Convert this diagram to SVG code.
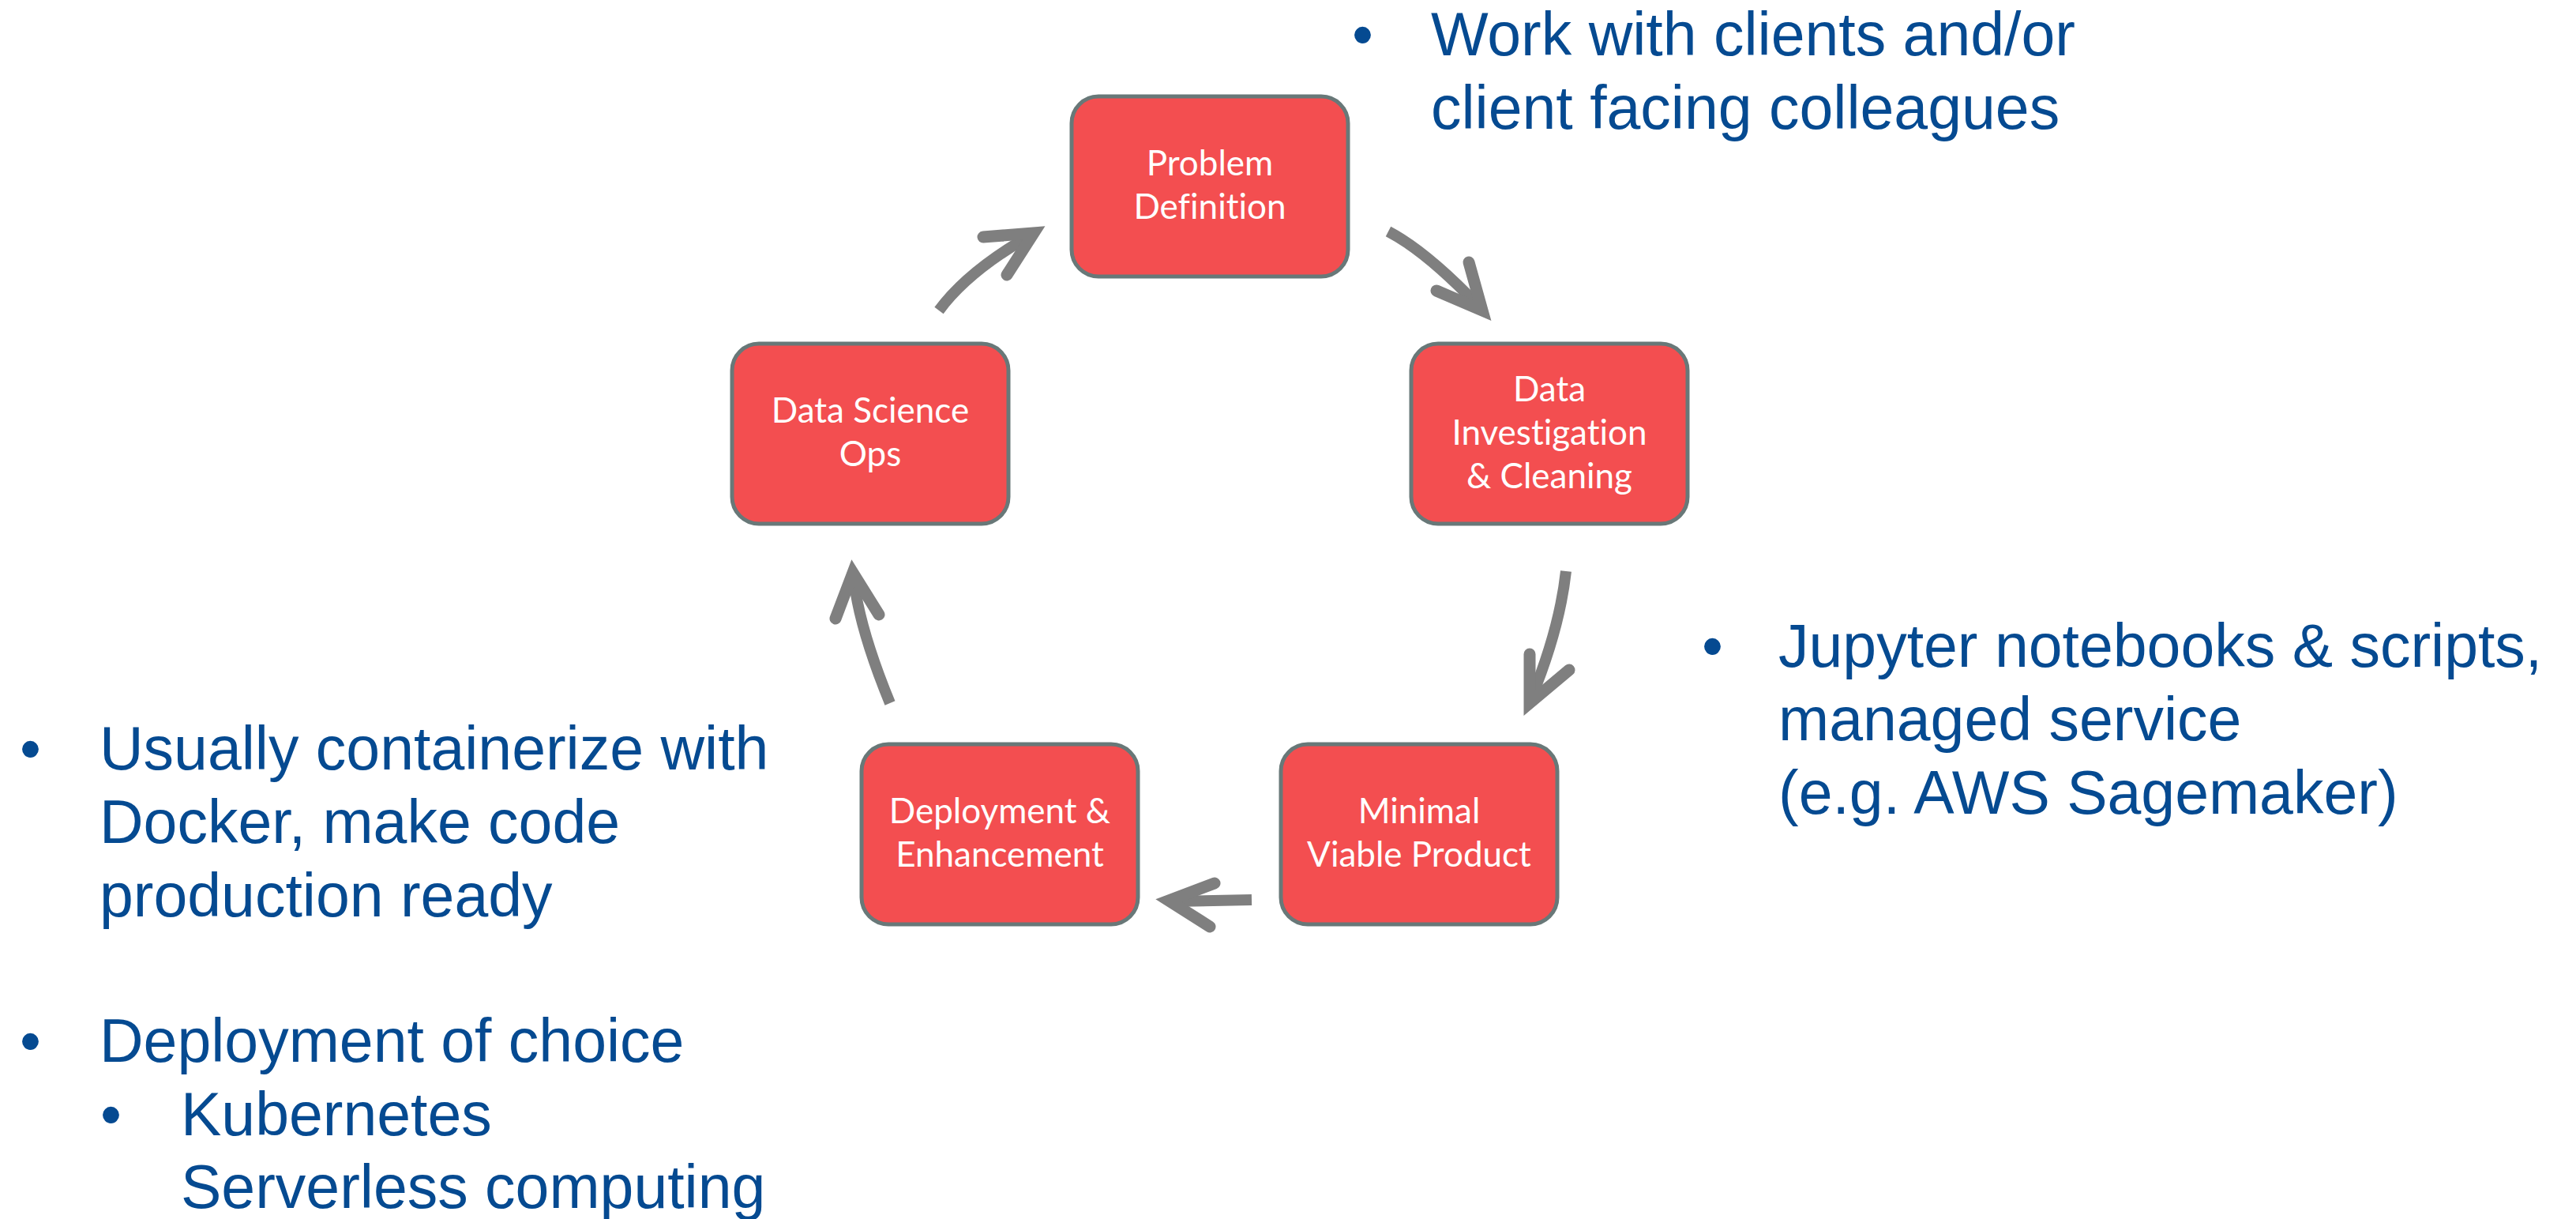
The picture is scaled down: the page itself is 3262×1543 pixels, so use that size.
<svg xmlns="http://www.w3.org/2000/svg" width="3262" height="1543" viewBox="0 0 3262 1543">
<style>
.box{fill:#F34E50;stroke:#687878;stroke-width:5}
.lbl{font-family:Lato,"Open Sans",sans-serif;font-size:44px;fill:#ffffff;text-anchor:middle;font-variant-ligatures:none}
.shaft{fill:none;stroke:#7f7f7f;stroke-width:14;stroke-linecap:butt}
.head{fill:none;stroke:#7f7f7f;stroke-width:15;stroke-linecap:round;stroke-linejoin:miter;stroke-miterlimit:10}
.note{font-family:"Liberation Sans",Arial,sans-serif;font-size:77px;fill:#054A91}
</style>
<rect width="3262" height="1543" fill="#ffffff"/>
<g id="node-problem">
<rect class="box" x="1357" y="122" width="350" height="228" rx="34"/>
<text class="lbl" x="1532" y="222">Problem</text>
<text class="lbl" x="1532" y="277">Definition</text>
</g>
<g id="node-investigation">
<rect class="box" x="1787" y="435" width="350" height="228" rx="34"/>
<text class="lbl" x="1962" y="508">Data</text>
<text class="lbl" x="1962" y="563">Investigation</text>
<text class="lbl" x="1962" y="618">&amp; Cleaning</text>
</g>
<g id="node-mvp">
<rect class="box" x="1622" y="942" width="350" height="228" rx="34"/>
<text class="lbl" x="1797" y="1042">Minimal</text>
<text class="lbl" x="1797" y="1097">Viable Product</text>
</g>
<g id="node-deployment">
<rect class="box" x="1091" y="942" width="350" height="228" rx="34"/>
<text class="lbl" x="1266" y="1042">Deployment &amp;</text>
<text class="lbl" x="1266" y="1097">Enhancement</text>
</g>
<g id="node-dsops">
<rect class="box" x="927" y="435" width="350" height="228" rx="34"/>
<text class="lbl" x="1102" y="535">Data Science</text>
<text class="lbl" x="1102" y="590">Ops</text>
</g>
<g id="connectors">
<path class="shaft" d="M1758,293 Q1806,318 1872,387"/>
<path class="head" d="M1860,332 L1877,393 L1819,368"/>
<path class="shaft" d="M1983,723 Q1975,796 1939,884"/>
<path class="head" d="M1937,828 L1937,890 L1987,848"/>
<path class="shaft" d="M1585,1139 L1486,1141"/>
<path class="head" d="M1538,1118 L1480,1140 L1532,1173"/>
<path class="shaft" d="M1127,890 Q1088,795 1081,732"/>
<path class="head" d="M1058,783 L1080,725 L1113,778"/>
<path class="shaft" d="M1189,393 Q1225,344 1303,299"/>
<path class="head" d="M1245,300 L1309,295 L1275,348"/>
</g>
<g id="note-problem">
<text class="note" x="1712" y="70">•</text>
<text class="note" x="1812" y="70">Work with clients and/or</text>
<text class="note" x="1812" y="163">client facing colleagues</text>
</g>
<g id="note-investigation">
<text class="note" x="2155" y="844">•</text>
<text class="note" x="2252" y="844">Jupyter notebooks &amp; scripts,</text>
<text class="note" x="2252" y="937">managed service</text>
<text class="note" x="2252" y="1030">(e.g. AWS Sagemaker)</text>
</g>
<g id="note-deployment">
<text class="note" x="25" y="974">•</text>
<text class="note" x="126" y="974">Usually containerize with</text>
<text class="note" x="126" y="1067">Docker, make code</text>
<text class="note" x="126" y="1160">production ready</text>
<text class="note" x="25" y="1344">•</text>
<text class="note" x="126" y="1344">Deployment of choice</text>
<text class="note" x="127" y="1437">•</text>
<text class="note" x="229" y="1437">Kubernetes</text>
<text class="note" x="229" y="1529">Serverless computing</text>
</g>
</svg>
